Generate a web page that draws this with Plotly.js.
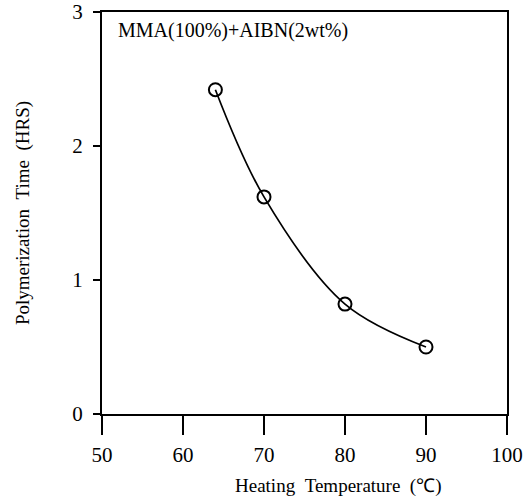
<!DOCTYPE html>
<html>
<head>
<meta charset="utf-8">
<script src="https://cdn.plot.ly/plotly-3.0.1.min.js"></script>
<style>html,body{margin:0;padding:0;background:#fff;}#chart{width:532px;height:502px;}</style>
</head>
<body>
<div id="chart"></div>
<script>
const temperature = [64, 70, 80, 90];
const polyTime = [2.42, 1.62, 0.82, 0.50];
const xTicks = [50, 60, 70, 80, 90, 100];
const yTicks = [0, 1, 2, 3];
const label = "MMA(100%)+AIBN(2wt%)";
const xTitle = "Heating&nbsp;&nbsp;Temperature&nbsp;&nbsp;(℃)";
const yTitle = "Polymerization&nbsp;&nbsp;Time&nbsp;&nbsp;(HRS)";

const font = "Liberation Serif, Times New Roman, serif";

const traces = [
  {x: temperature, y: polyTime, type: "scatter", mode: "lines",
   line: {color: "#000", width: 1.7, shape: "spline", smoothing: 1}, hoverinfo: "skip"},
  {x: temperature, y: polyTime, type: "scatter", mode: "markers",
   marker: {symbol: "circle-open", size: 13, color: "#000", line: {width: 2, color: "#000"}}}
];

const layout = {
  width: 532, height: 502,
  margin: {l: 102, r: 25, t: 12, b: 88},
  paper_bgcolor: "#fff", plot_bgcolor: "#fff",
  showlegend: false,
  font: {family: font, color: "#000", size: 19},
  xaxis: {
    range: [50, 100], tickvals: xTicks, ticktext: xTicks.map(String),
    ticks: "outside", ticklen: 19, tickwidth: 2, tickcolor: "#000",
    showline: true, linecolor: "#000", linewidth: 2, mirror: true,
    showgrid: false, zeroline: false, ticklabelstandoff: 2,
    tickfont: {family: font, size: 21, color: "#000"}
  },
  yaxis: {
    range: [0, 3], tickvals: yTicks, ticktext: yTicks.map(String),
    ticks: "outside", ticklen: 7, tickwidth: 2, tickcolor: "#000",
    showline: true, linecolor: "#000", linewidth: 2, mirror: true,
    showgrid: false, zeroline: false, ticklabelstandoff: 6,
    tickfont: {family: font, size: 21, color: "#000"},
    title: {text: yTitle, font: {family: font, size: 19, color: "#000"}, standoff: 38}
  },
  annotations: [
    {text: label, xref: "paper", yref: "paper", x: 0.035, y: 0.955, xanchor: "left", yanchor: "middle",
     showarrow: false, font: {family: font, size: 20, color: "#000"}},
    {text: xTitle, xref: "paper", yref: "paper", x: 0.583, y: -0.18, xanchor: "center", yanchor: "middle",
     showarrow: false, font: {family: font, size: 19, color: "#000"}}
  ]
};

Plotly.newPlot("chart", traces, layout, {staticPlot: true, displayModeBar: false});
</script>
</body>
</html>
